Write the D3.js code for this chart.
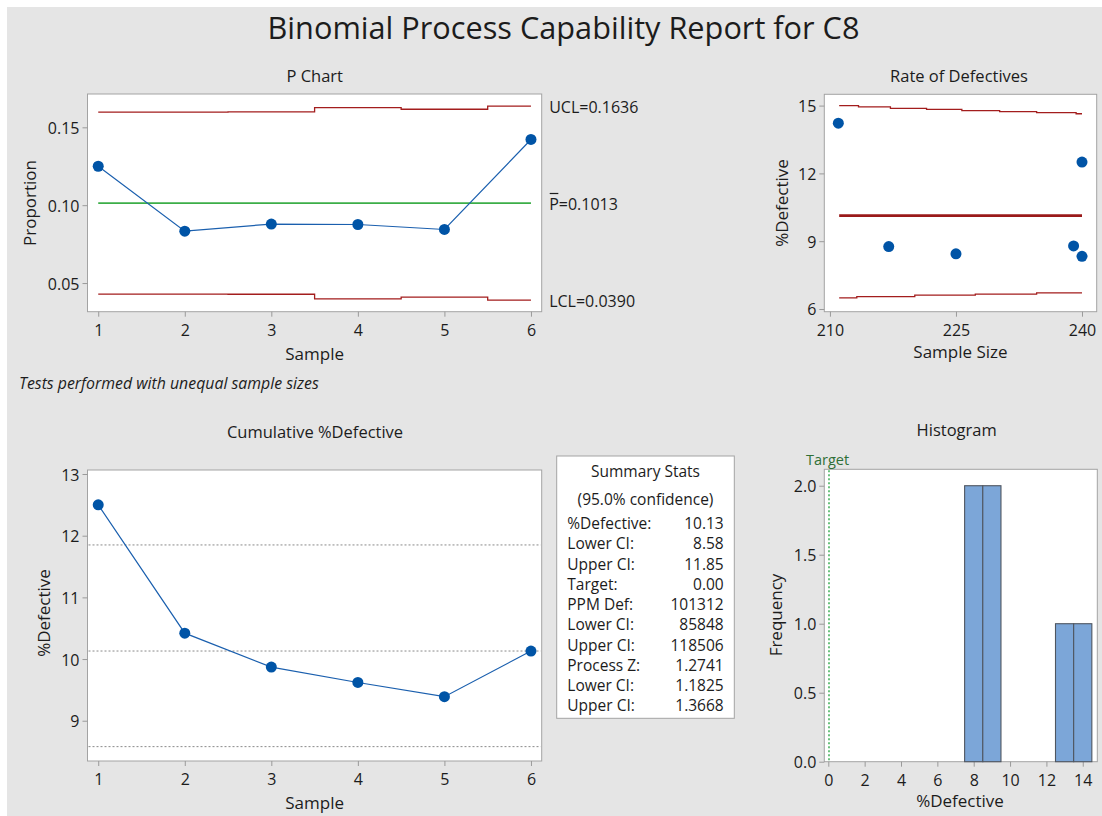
<!DOCTYPE html>
<html>
<head>
<meta charset="utf-8">
<script src="https://cdn.jsdelivr.net/npm/d3@7"></script>
<style>
  html, body { margin: 0; padding: 0; background: #ffffff; }
  svg text { font-family: "Open Sans", "Noto Sans", sans-serif; fill: #1c1c1c; }
</style>
</head>
<body>
<svg id="chart" width="1102" height="816"></svg>
<script>
// ---------- data ----------
const samples = [1, 2, 3, 4, 5, 6];
const proportion = [0.1250, 0.0833, 0.0879, 0.0876, 0.0844, 0.1422];
const uclValues = [0.1597, 0.1597, 0.1599, 0.1627, 0.1616, 0.1636];
const lclValues = [0.0429, 0.0429, 0.0428, 0.0399, 0.0410, 0.0390];
const pBar = 0.1013;
const pTicks = [0.05, 0.10, 0.15];

const sampleSize = [240, 240, 239, 217, 225, 211];
const pctDefective = [12.50, 8.33, 8.79, 8.76, 8.44, 14.22];
const rateUclN = [211.1, 213.4, 217.2, 221.5, 225.7, 230.2, 234.6, 239.3, 240];
const rateUclV = [15.00, 14.94, 14.88, 14.83, 14.78, 14.73, 14.69, 14.64];
const rateLclN = [211.1, 213.2, 220.1, 227.3, 234.6, 240];
const rateLclV = [6.49, 6.55, 6.61, 6.66, 6.71];
const rateCenter = 10.13;
const rateXTicks = [210, 225, 240];
const rateYTicks = [6, 9, 12, 15];

const cumPct = [12.50, 10.42, 9.87, 9.62, 9.39, 10.13];
const cumRefLines = [8.58, 10.13, 11.85];
const cumYTicks = [9, 10, 11, 12, 13];

const binStart = [7.5, 8.5, 9.5, 10.5, 11.5, 12.5, 13.5];
const binCount = [2, 2, 0, 0, 0, 1, 1];
const binWidth = 1;
const targetValue = 0;
const histXTicks = [0, 2, 4, 6, 8, 10, 12, 14];
const histYTicks = [0, 0.5, 1.0, 1.5, 2.0];

const statLabels = ["%Defective:", "Lower CI:", "Upper CI:", "Target:", "PPM Def:", "Lower CI:", "Upper CI:", "Process Z:", "Lower CI:", "Upper CI:"];
const statValues = ["10.13", "8.58", "11.85", "0.00", "101312", "85848", "118506", "1.2741", "1.1825", "1.3668"];

// ---------- styles ----------
const BG = "#e5e5e5";
const BOX = "#a3a3a3";
const TICK = "#9a9a9a";
const BLUE = "#0054a6";
const LINEBLUE = "#1a5fae";
const RED = "#a31d1d";
const GREEN = "#3cae48";

const svg = d3.select("#chart");
svg.append("rect").attr("x", 7).attr("y", 7).attr("width", 1095).attr("height", 809).attr("fill", BG);

function fitWidth(sel, w) {
  const len = sel.node().getComputedTextLength();
  const fs = parseFloat(sel.attr("font-size"));
  sel.attr("font-size", fs * w / len);
}

// Title
const title = svg.append("text").attr("x", 563.5).attr("y", 39).attr("text-anchor", "middle")
  .attr("font-size", 30).text("Binomial Process Capability Report for C8");
fitWidth(title, 592);

function panel(opts) {
  const g = svg.append("g");
  const [x0, x1] = opts.x.range();
  const [y0, y1] = opts.y.range(); // y0 bottom, y1 top
  g.append("rect").attr("x", x0).attr("y", y1).attr("width", x1 - x0).attr("height", y0 - y1)
    .attr("fill", "#ffffff").attr("stroke", BOX).attr("stroke-width", 1);
  const xa = g.append("g").attr("transform", `translate(0,${y0})`)
    .call(d3.axisBottom(opts.x).tickValues(opts.xTicks).tickFormat(opts.xFmt || d3.format("d")).tickSize(5).tickPadding(3));
  const ya = g.append("g").attr("transform", `translate(${x0},0)`)
    .call(d3.axisLeft(opts.y).tickValues(opts.yTicks).tickFormat(opts.yFmt || d3.format("d")).tickSize(5).tickPadding(3));
  [xa, ya].forEach(a => {
    a.select(".domain").remove();
    a.selectAll(".tick line").attr("stroke", TICK);
    a.selectAll(".tick text").attr("font-size", 16).attr("fill", "#1c1c1c")
      .attr("font-family", '"Open Sans", "Noto Sans", sans-serif');
  });
  xa.selectAll(".tick text").attr("dy", null).attr("y", 18).attr("dominant-baseline", "central");
  ya.selectAll(".tick text").attr("dy", null).attr("dominant-baseline", "central");
  // titles
  g.append("text").attr("x", opts.titleX).attr("y", opts.titleY).attr("text-anchor", "middle")
    .attr("dominant-baseline", "central").attr("font-size", 16.5).text(opts.title);
  g.append("text").attr("x", (x0 + x1) / 2 + (opts.xLabelDx || 0)).attr("y", opts.xLabelY).attr("text-anchor", "middle")
    .attr("dominant-baseline", "central").attr("font-size", 17).text(opts.xLabel);
  g.append("text").attr("transform", `translate(${opts.yLabelX},${opts.yLabelY}) rotate(-90)`)
    .attr("text-anchor", "middle").attr("dominant-baseline", "central").attr("font-size", 17).text(opts.yLabel);
  return g;
}

// ---------- P Chart ----------
const px = d3.scaleLinear().domain([0.876, 6.124]).range([87.5, 541.7]);
const py = d3.scaleLinear().domain([0.0316, 0.1714]).range([311.7, 94]);
const gP = panel({x: px, y: py, xTicks: samples, yTicks: pTicks, yFmt: d3.format(".2f"),
  title: "P Chart", titleX: 314.7, titleY: 75.5, xLabel: "Sample", xLabelY: 353.5,
  yLabel: "Proportion", yLabelX: 29, yLabelY: 203});

const stepLine = (xs, ys) => d3.line().curve(d3.curveStepAfter).x(d => xs(d[0])).y(d => ys(d[1]));
const limitPts = vals => samples.map((s, i) => [i === 0 ? s : s - 0.5, vals[i]]).concat([[samples[samples.length - 1], vals[vals.length - 1]]]);
gP.append("path").attr("d", stepLine(px, py)(limitPts(uclValues))).attr("fill", "none").attr("stroke", RED).attr("stroke-width", 1.3);
gP.append("path").attr("d", stepLine(px, py)(limitPts(lclValues))).attr("fill", "none").attr("stroke", RED).attr("stroke-width", 1.3);
gP.append("line").attr("x1", px(samples[0])).attr("x2", px(samples[5])).attr("y1", py(pBar)).attr("y2", py(pBar))
  .attr("stroke", GREEN).attr("stroke-width", 1.6);
gP.append("path").attr("d", d3.line().x((d, i) => px(samples[i])).y(d => py(d))(proportion))
  .attr("fill", "none").attr("stroke", LINEBLUE).attr("stroke-width", 1.2);
gP.selectAll("circle.p").data(proportion).join("circle").attr("cx", (d, i) => px(samples[i])).attr("cy", d => py(d))
  .attr("r", 5.5).attr("fill", BLUE);
// labels
gP.append("text").attr("x", 549.2).attr("y", 106.5).attr("dominant-baseline", "central").attr("font-size", 16)
  .text("UCL=" + d3.format(".4f")(uclValues[5]));
const pbT = gP.append("text").attr("x", 549.2).attr("y", 204.3).attr("dominant-baseline", "central").attr("font-size", 16)
  .text("P=" + d3.format(".4f")(pBar));
const pW = pbT.node().getSubStringLength(0, 1);
gP.append("line").attr("x1", 549.7).attr("x2", 549.2 + pW - 0.5).attr("y1", 193.5).attr("y2", 193.5)
  .attr("stroke", "#1c1c1c").attr("stroke-width", 1.2);
gP.append("text").attr("x", 549.2).attr("y", 300.5).attr("dominant-baseline", "central").attr("font-size", 16)
  .text("LCL=" + d3.format(".4f")(lclValues[5]));
const note = svg.append("text").attr("x", 19).attr("y", 383.3).attr("dominant-baseline", "central")
  .attr("font-size", 13.5).attr("font-style", "italic").text("Tests performed with unequal sample sizes");
fitWidth(note, 300);

// ---------- Rate of Defectives ----------
const rx = d3.scaleLinear().domain([209.33, 241.75]).range([824.3, 1096.7]);
const ry = d3.scaleLinear().domain([5.88, 15.50]).range([311.7, 94.3]);
const gR = panel({x: rx, y: ry, xTicks: rateXTicks, yTicks: rateYTicks,
  title: "Rate of Defectives", titleX: 959, titleY: 75.5, xLabel: "Sample Size", xLabelY: 351.7,
  yLabel: "%Defective", yLabelX: 781.7, yLabelY: 203});
const rPts = (ns, vs) => vs.map((v, i) => [ns[i], v]).concat([[ns[ns.length - 1], vs[vs.length - 1]]]);
gR.append("path").attr("d", stepLine(rx, ry)(rPts(rateUclN, rateUclV))).attr("fill", "none").attr("stroke", RED).attr("stroke-width", 1.3);
gR.append("path").attr("d", stepLine(rx, ry)(rPts(rateLclN, rateLclV))).attr("fill", "none").attr("stroke", RED).attr("stroke-width", 1.3);
gR.append("line").attr("x1", rx(rateUclN[0])).attr("x2", rx(rateUclN[rateUclN.length - 1]))
  .attr("y1", ry(rateCenter)).attr("y2", ry(rateCenter)).attr("stroke", "#9a1a1a").attr("stroke-width", 2.6);
gR.selectAll("circle.r").data(pctDefective).join("circle").attr("cx", (d, i) => rx(sampleSize[i])).attr("cy", d => ry(d))
  .attr("r", 5.5).attr("fill", BLUE);

// ---------- Cumulative %Defective ----------
const cx = d3.scaleLinear().domain([0.876, 6.124]).range([87.5, 541.7]);
const cy = d3.scaleLinear().domain([8.347, 13.065]).range([761, 470]);
const gC = panel({x: cx, y: cy, xTicks: samples, yTicks: cumYTicks,
  title: "Cumulative %Defective", titleX: 315, titleY: 431, xLabel: "Sample", xLabelY: 802.5,
  yLabel: "%Defective", yLabelX: 43, yLabelY: 613});
gC.selectAll("line.ref").data(cumRefLines).join("line").attr("x1", cx.range()[0] + 1).attr("x2", cx.range()[1] - 1)
  .attr("y1", d => cy(d)).attr("y2", d => cy(d)).attr("stroke", "#8a8a8a").attr("stroke-width", 1).attr("stroke-dasharray", "2,2");
gC.append("path").attr("d", d3.line().x((d, i) => cx(samples[i])).y(d => cy(d))(cumPct))
  .attr("fill", "none").attr("stroke", LINEBLUE).attr("stroke-width", 1.2);
gC.selectAll("circle.c").data(cumPct).join("circle").attr("cx", (d, i) => cx(samples[i])).attr("cy", d => cy(d))
  .attr("r", 5.5).attr("fill", BLUE);

// ---------- Summary Stats ----------
const gS = svg.append("g");
gS.append("rect").attr("x", 556.7).attr("y", 456).attr("width", 177.6).attr("height", 262.3)
  .attr("fill", "#ffffff").attr("stroke", BOX);
gS.append("text").attr("x", 645.5).attr("y", 470.5).attr("text-anchor", "middle").attr("dominant-baseline", "central")
  .attr("font-size", 15.5).text("Summary Stats");
gS.append("text").attr("x", 645.5).attr("y", 498.5).attr("text-anchor", "middle").attr("dominant-baseline", "central")
  .attr("font-size", 15.5).text("(95.0% confidence)");
statLabels.forEach((l, i) => {
  gS.append("text").attr("x", 567.3).attr("y", 523 + i * 20.25).attr("dominant-baseline", "central")
    .attr("font-size", 15.5).text(l);
  gS.append("text").attr("x", 723.7).attr("y", 523 + i * 20.25).attr("dominant-baseline", "central")
    .attr("text-anchor", "end").attr("font-size", 15.5).text(statValues[i]);
});

// ---------- Histogram ----------
const hx = d3.scaleLinear().domain([-0.22, 14.8]).range([824.3, 1097.3]);
const hy = d3.scaleLinear().domain([0, 2.119]).range([761.7, 469.3]);
const gH = panel({x: hx, y: hy, xTicks: histXTicks, yTicks: histYTicks, yFmt: d3.format(".1f"),
  title: "Histogram", titleX: 956.7, titleY: 429, xLabel: "%Defective", xLabelY: 800.7, xLabelDx: -0.8,
  yLabel: "Frequency", yLabelX: 775.7, yLabelY: 615});
gH.append("line").attr("x1", hx(targetValue) + 0.7).attr("x2", hx(targetValue) + 0.7)
  .attr("y1", hy.range()[1] + 1).attr("y2", hy.range()[0] - 1)
  .attr("stroke", "#2fa84a").attr("stroke-width", 1.4).attr("stroke-dasharray", "2,2");
gH.append("text").attr("x", hx(targetValue) - 0.8).attr("y", 459).attr("text-anchor", "middle").attr("dominant-baseline", "central")
  .attr("font-size", 14.5).attr("fill", "#2f6f36").style("fill", "#2f6f36").text("Target");
gH.selectAll("rect.bin").data(binCount).join("rect")
  .attr("x", (d, i) => hx(binStart[i])).attr("width", (d, i) => hx(binStart[i] + binWidth) - hx(binStart[i]))
  .attr("y", d => hy(d)).attr("height", d => hy(0) - hy(d))
  .attr("fill", "#7ca6d8").attr("stroke", "#4f5660").attr("stroke-width", 1.1);
</script>
</body>
</html>
